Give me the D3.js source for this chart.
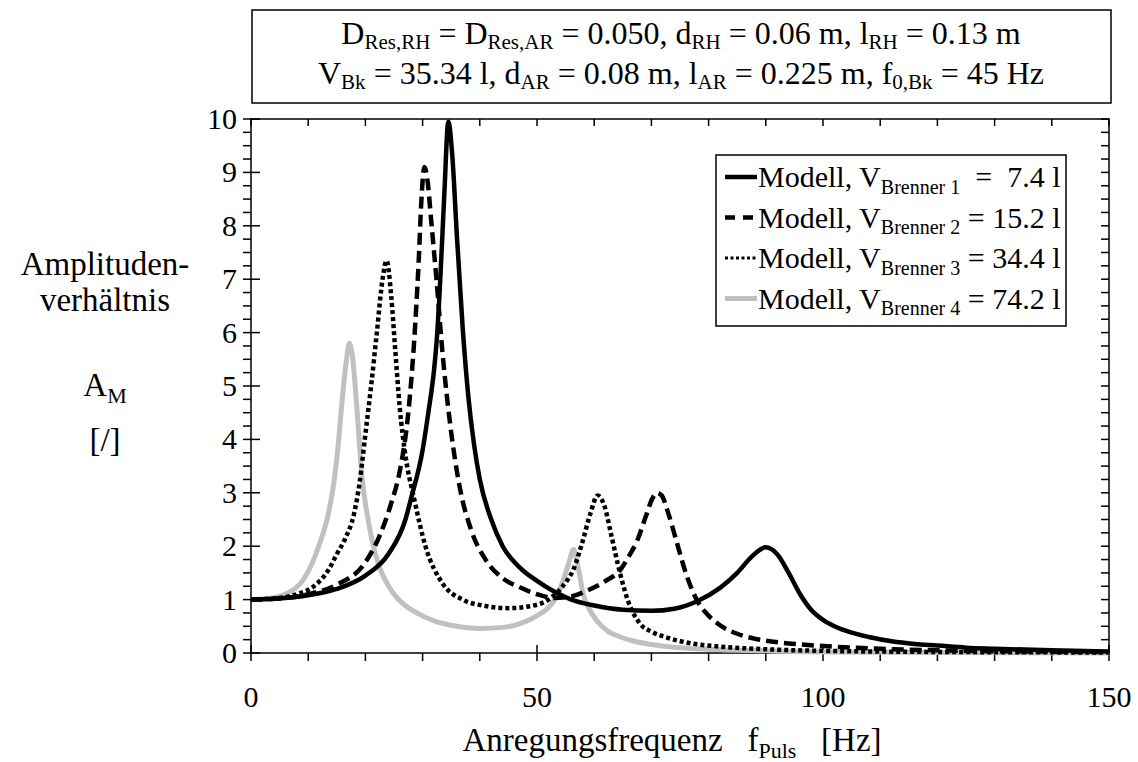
<!DOCTYPE html>
<html><head><meta charset="utf-8">
<script src="https://cdn.jsdelivr.net/npm/d3@7"></script>
<style>
html,body{margin:0;padding:0;background:#fff;}
svg{display:block;}
text{font-family:"Liberation Serif","Times New Roman",serif;fill:#000;white-space:pre;}
</style></head>
<body>
<svg id="chart" width="1138" height="762"></svg>
<script>
// ---------- data ----------
const xTicksMajor = [0, 50, 100, 150];
const yTicksMajor = [0,1,2,3,4,5,6,7,8,9,10];

const s1Freq = [0,5,10,15,20,24,27,28,30,31,32,32.5,33,33.8,34.5,35.2,36,37,38,39,40,42,44,47,50,53,56,60,65,70,74,78,82,85,87.5,90,92,94,96,98,100,102,105,108,112,116,120,125,130,140,150];
const s1Amp  = [1,1.02,1.08,1.2,1.45,1.85,2.5,2.9,3.8,4.5,5.3,5.9,6.8,8.6,9.95,9.3,7.8,6.1,4.8,3.9,3.25,2.5,2.0,1.6,1.35,1.15,1.0,0.89,0.81,0.79,0.83,0.97,1.22,1.5,1.8,1.98,1.85,1.5,1.1,0.8,0.62,0.5,0.38,0.3,0.22,0.17,0.14,0.1,0.08,0.05,0.03];

const s2Freq = [0,5,10,15,20,22.5,24.5,26,27.5,28.5,29.3,29.8,30.3,30.8,31.5,32.5,33.5,34.8,36.5,38.5,41,44,47,50,53,56,59,62,64.5,66,67.5,69,70.2,71,71.8,73,74.5,76,78,80,82,85,88,94,100,110,120,135,150];
const s2Amp  = [1,1.02,1.1,1.28,1.7,2.2,2.8,3.4,4.5,5.8,7.3,8.5,9.1,8.9,8.1,6.9,5.6,4.3,3.1,2.3,1.75,1.4,1.23,1.1,1.03,1.06,1.18,1.35,1.55,1.8,2.1,2.55,2.9,3.0,2.95,2.6,2.05,1.5,0.98,0.7,0.52,0.36,0.27,0.18,0.13,0.08,0.05,0.03,0.02];

const s3Freq = [0,5,8,11,13.5,15,16.5,18,19,20,21,22,23,23.7,24.5,25.2,26,27,28.5,30.5,33.5,37,41,45,49,52,54.5,56.5,58,59.3,60.6,61.8,63,64.5,66,68,70,73,77,82,90,100,120,150];
const s3Amp  = [1,1.03,1.1,1.25,1.55,1.85,2.15,2.6,3.2,4.1,5.0,6.0,7.0,7.35,6.7,5.7,4.6,3.7,2.9,2.0,1.3,1.0,0.88,0.84,0.88,1.0,1.25,1.6,2.1,2.6,2.95,2.75,2.2,1.5,0.95,0.55,0.4,0.28,0.18,0.12,0.07,0.04,0.02,0.01];

const s4Freq = [0,3,6,9,10.7,12,13.5,14.5,15.2,16,16.7,17.2,17.8,18.5,19.4,20.3,21.2,22.5,23.5,25,26.5,29,32,36,40,44,47,50,52.9,54.6,55.6,56.4,57.2,58.1,59,60.5,62.5,64.6,67,70,75,80,90,100,150];
const s4Amp  = [1,1.02,1.1,1.35,1.68,2.05,2.6,3.2,3.85,4.8,5.5,5.8,5.5,4.6,3.3,2.6,2.1,1.6,1.36,1.1,0.93,0.75,0.6,0.5,0.46,0.48,0.55,0.7,0.97,1.36,1.7,1.94,1.6,1.1,0.85,0.6,0.4,0.3,0.22,0.16,0.1,0.07,0.04,0.02,0.0];

const seriesNames = ["Brenner 1","Brenner 2","Brenner 3","Brenner 4"];
const seriesVols  = ["  =  7.4 l"," = 15.2 l"," = 34.4 l"," = 74.2 l"];

// ---------- layout ----------
const svg = d3.select("#chart");
const L = 251, R = 1109, T = 119, B = 653;
const x = d3.scaleLinear().domain([0,150]).range([L,R]);
const y = d3.scaleLinear().domain([0,10]).range([B,T]);
const FS = 30, SUB = 20;      // ticks & legend
const FT = 33, SUBT = 22;     // titles

const styles = [
  {stroke:"#000", width:4.5, dash:null, ldash:null},
  {stroke:"#000", width:4.5, dash:"12,6", ldash:"10,8"},
  {stroke:"#000", width:4.5, dash:"4,3", ldash:"3,2.5"},
  {stroke:"#c0c0c0", width:5, dash:null, ldash:null}
];
const data = [
  d3.zip(s1Freq,s1Amp), d3.zip(s2Freq,s2Amp), d3.zip(s3Freq,s3Amp), d3.zip(s4Freq,s4Amp)
];

// text with subscripts: parts = [[text, isSub], ...]
function richText(g, px, py, parts, anchor, fs, sfs, shift){
  const sh = shift || fs*0.22;
  const t = g.append("text").attr("x",px).attr("y",py).attr("text-anchor",anchor||"start")
    .style("font-size",fs+"px");
  let prevSub = false;
  parts.forEach(p=>{
    const ts = t.append("tspan").text(p[0]);
    if(p[1]){ ts.style("font-size",sfs+"px").attr("dy", sh); }
    else if(prevSub){ ts.attr("dy", -sh); }
    prevSub = !!p[1];
  });
  return t;
}

// ---------- title box ----------
svg.append("rect").attr("x",252).attr("y",10).attr("width",859).attr("height",93)
  .attr("fill","#fff").attr("stroke","#000").attr("stroke-width",1.5);
richText(svg, 681, 44, [["D",0],["Res,RH",1],[" = D",0],["Res,AR",1],[" = 0.050, d",0],["RH",1],[" = 0.06 m, l",0],["RH",1],[" = 0.13 m",0]], "middle", 32, 21, 5);
richText(svg, 681, 84, [["V",0],["Bk",1],[" = 35.34 l, d",0],["AR",1],[" = 0.08 m, l",0],["AR",1],[" = 0.225 m, f",0],["0,Bk",1],[" = 45 Hz",0]], "middle", 32, 21, 5);

// ---------- axes frame & ticks ----------
const axisG = svg.append("g").attr("stroke","#000").attr("stroke-width",1.5);
axisG.append("rect").attr("x",L).attr("y",T).attr("width",R-L).attr("height",B-T).attr("fill","none");

const xMinor = d3.range(0,151,10);
xMinor.forEach(v=>{
  const major = xTicksMajor.includes(v);
  axisG.append("line").attr("x1",x(v)).attr("x2",x(v))
    .attr("y1", major ? B-8 : B).attr("y2", B+8);
  axisG.append("line").attr("x1",x(v)).attr("x2",x(v)).attr("y1",T).attr("y2",T+7);
});
const yMinor = d3.range(0,10.001,0.25);
yMinor.forEach(v=>{
  const major = Math.abs(v-Math.round(v))<1e-6;
  axisG.append("line").attr("y1",y(v)).attr("y2",y(v))
    .attr("x1", L-8).attr("x2", major ? L+9 : L);
  axisG.append("line").attr("y1",y(v)).attr("y2",y(v)).attr("x1",R-8).attr("x2",R);
});

// tick labels
svg.append("g").selectAll("text").data(xTicksMajor).join("text")
  .attr("x",d=>x(d)).attr("y",B+54).attr("text-anchor","middle")
  .style("font-size",FS+"px").text(d=>d);
svg.append("g").selectAll("text").data(yTicksMajor).join("text")
  .attr("x",L-14).attr("y",d=>y(d)+10).attr("text-anchor","end")
  .style("font-size",FS+"px").text(d=>d);

// axis titles
richText(svg, 672, 751, [["Anregungsfrequenz   f",0],["Puls",1],["   [Hz]",0]], "middle", FT, SUBT);
svg.append("text").attr("x",105).attr("y",275).attr("text-anchor","middle").style("font-size",FT+"px").text("Amplituden-");
svg.append("text").attr("x",105).attr("y",311).attr("text-anchor","middle").style("font-size",FT+"px").text("verhältnis");
richText(svg, 105, 396, [["A",0],["M",1]], "middle", FT, SUBT);
svg.append("text").attr("x",105).attr("y",451).attr("text-anchor","middle").style("font-size",FT+"px").text("[/]");

// ---------- curves ----------
const line = d3.line().x(d=>x(d[0])).y(d=>y(d[1])).curve(d3.curveMonotoneX);
const plotG = svg.append("g");
[3,2,1,0].forEach(i=>{
  plotG.append("path").datum(data[i]).attr("d",line).attr("fill","none")
    .attr("stroke",styles[i].stroke).attr("stroke-width",styles[i].width)
    .attr("stroke-dasharray",styles[i].dash);
});

// ---------- legend ----------
const lg = svg.append("g");
lg.append("rect").attr("x",716).attr("y",155).attr("width",350).attr("height",171)
  .attr("fill","#fff").attr("stroke","#000").attr("stroke-width",1.5);
seriesNames.forEach((n,i)=>{
  const cy = 177 + i*40.5;
  lg.append("line").attr("x1",725).attr("x2",757).attr("y1",cy).attr("y2",cy)
    .attr("stroke",styles[i].stroke).attr("stroke-width",i===2?3:styles[i].width)
    .attr("stroke-dasharray",styles[i].ldash);
  richText(lg, 758, cy+10, [["Modell, V",0],[n,1],[seriesVols[i],0]], "start", FS, SUB);
});
</script>
</body></html>
